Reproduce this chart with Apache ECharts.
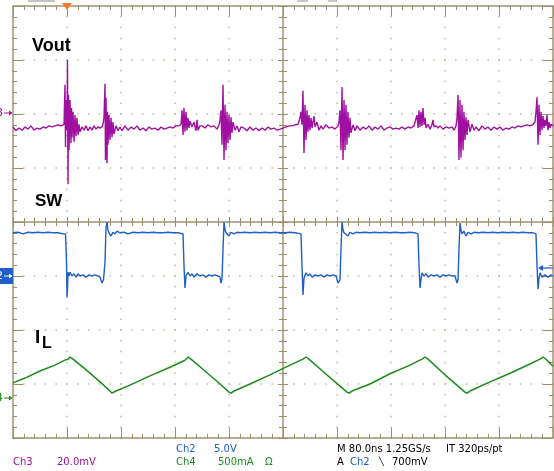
<!DOCTYPE html>
<html><head><meta charset="utf-8">
<script src="https://cdn.jsdelivr.net/npm/echarts@6/dist/echarts.min.js"></script>
<style>html,body{margin:0;padding:0;background:#fff;}#c{width:554px;height:471px;}</style>
</head><body><div id="c"></div>
<script>
// time axis: ns across 10 divisions (80 ns/div); vertical axis: screen divisions (-4..4)
const timeRange = [0, 800];
const timePerDiv = 80;
const divRange = [-4, 4];

// Ch3 Vout (AC ripple) : [ns, div]
const voutTrace = [
[0,1.76],[4.4,1.69],[8.9,1.74],[13.3,1.70],[17.8,1.76],[22.2,1.72],[26.7,1.78],[31.1,1.70],[35.6,1.74],[40,1.72],[44.4,1.76],[48.9,1.74],[53.3,1.78],[57.8,1.76],[62.2,1.78],[66.7,1.80],[71.1,1.78],[72.6,1.80],
[75.6,1.81],[77.0,2.54],[77.8,1.39],[78.5,2.26],[80.0,1.70],[80.7,3.00],[81.5,0.70],[82.2,2.35],[83.0,1.33],[84.4,2.26],[85.9,1.46],[86.7,2.11],[87.4,1.56],[88.9,2.04],[90.4,1.48],[91.9,1.98],[93.3,1.59],[94.8,1.93],[96.3,1.61],[97.8,1.81],[99.3,1.67],[102.2,1.76],[105.2,1.70],[108.1,1.78],[111.1,1.69],[114.1,1.76],[117.0,1.70],[120.0,1.78],[123.0,1.72],[125.9,1.76],[128.9,1.74],[131.9,1.76],[133.3,1.81],[134.8,1.93],
[136.3,2.56],[137.0,1.15],[137.8,2.30],[139.3,1.09],[140.0,2.04],[140.7,1.43],[142.2,1.98],[143.7,1.52],[145.2,1.93],[146.7,1.57],[148.1,1.85],[149.6,1.63],[152.6,1.78],[155.6,1.69],[158.5,1.76],[161.5,1.69],[165.9,1.78],[170.4,1.70],[174.8,1.76],[179.3,1.72],[183.7,1.78],[188.1,1.70],[192.6,1.74],[197.0,1.69],[201.5,1.76],[205.9,1.72],[210.4,1.74],[214.8,1.70],[219.3,1.76],[223.7,1.72],[228.1,1.74],[232.6,1.76],[237.0,1.74],[241.5,1.78],[245.9,1.78],[248.9,1.81],
[250.4,2.07],[251.9,1.61],[253.3,2.11],[254.8,1.67],[256.3,2.04],[257.8,1.70],[259.3,1.93],[260.7,1.74],[262.2,1.87],[265.2,1.76],[268.1,1.85],[271.1,1.69],[272.6,1.89],[274.1,1.70],[277.0,1.78],[280.0,1.78],[284.4,1.74],[288.9,1.80],[293.3,1.76],[297.8,1.78],[302.2,1.72],[305.2,1.80],[306.7,1.89],
[308.1,2.07],[309.6,1.43],[311.1,2.54],[312.6,1.15],[314.1,2.17],[315.6,1.33],[317.0,2.04],[318.5,1.46],[320.0,1.98],[321.5,1.52],[323.0,1.94],[324.4,1.65],[325.9,1.85],[328.9,1.70],[331.9,1.78],[334.8,1.67],[337.8,1.76],[342.2,1.74],[346.7,1.69],[351.1,1.76],[355.6,1.70],[360.0,1.74],[364.4,1.69],[368.9,1.74],[373.3,1.70],[377.8,1.76],[382.2,1.72],[386.7,1.74],[391.1,1.70],[395.6,1.72],[400.0,1.74],[404.4,1.76],[408.9,1.78],[413.3,1.78],[417.8,1.80],[422.2,1.81],[425.2,1.93],
[426.7,2.04],[428.1,1.80],[429.6,2.43],[431.1,1.28],[432.6,2.17],[434.1,1.52],[435.6,2.07],[437.0,1.67],[438.5,1.98],[440.0,1.70],[441.5,1.93],[443.0,1.74],[445.9,1.96],[447.4,1.76],[450.4,1.85],[453.3,1.70],[456.3,1.78],[459.3,1.72],[463.7,1.80],[468.1,1.74],[472.6,1.76],[477.0,1.72],[481.5,1.78],[483.0,1.85],
[484.4,2.07],[485.9,1.33],[487.4,2.50],[488.9,1.15],[490.4,2.26],[491.9,1.33],[493.3,2.17],[494.8,1.43],[496.3,2.04],[497.8,1.56],[499.3,1.93],[500.7,1.65],[503.7,1.80],[506.7,1.69],[509.6,1.78],[514.1,1.70],[518.5,1.76],[523.0,1.72],[527.4,1.78],[531.9,1.70],[536.3,1.76],[540.7,1.72],[545.2,1.78],[549.6,1.70],[554.1,1.74],[558.5,1.76],[563.0,1.72],[567.4,1.74],[571.9,1.72],[576.3,1.76],[580.7,1.72],[585.2,1.76],[589.6,1.74],[594.1,1.78],[597.0,1.81],
[598.5,1.98],[600.0,1.74],[601.5,2.07],[603.0,1.76],[604.4,2.04],[605.9,1.78],[607.4,2.11],[608.9,1.80],[610.4,1.93],[611.9,1.74],[614.8,1.81],[617.8,1.72],[620.7,1.80],[622.2,1.89],[623.7,1.76],[626.7,1.78],[629.6,1.74],[632.6,1.78],[637.0,1.72],[641.5,1.76],[645.9,1.74],[650.4,1.76],[653.3,1.70],[656.3,1.78],
[657.8,1.93],[659.3,2.35],[660.7,1.15],[662.2,2.26],[663.7,1.19],[665.2,2.17],[666.7,1.33],[668.1,2.04],[669.6,1.52],[671.1,1.94],[672.6,1.61],[674.1,1.89],[677.0,1.67],[680.0,1.81],[683.0,1.70],[685.9,1.76],[690.4,1.69],[694.8,1.78],[699.3,1.72],[703.7,1.76],[708.1,1.70],[712.6,1.76],[717.0,1.72],[721.5,1.76],[725.9,1.70],[730.4,1.74],[734.8,1.72],[739.3,1.76],[743.7,1.74],[748.1,1.78],[752.6,1.76],[757.0,1.78],[761.5,1.80],[765.9,1.78],[770.4,1.81],[773.3,1.85],
[774.8,2.04],[776.3,2.31],[777.8,1.43],[779.3,2.17],[780.7,1.61],[782.2,2.04],[783.7,1.70],[785.2,1.96],[786.7,1.74],[788.1,1.89],[789.6,1.78],[791.1,1.98],[792.6,1.70],[794.1,1.85],[795.6,1.74],[797.0,1.81],[800.0,1.78]
];

// Ch2 SW node : [ns, div]
const swTrace = [
[0,-0.20],[7.4,-0.19],[14.8,-0.22],[22.2,-0.19],[29.6,-0.20],[37.0,-0.19],[44.4,-0.20],[51.9,-0.19],[59.3,-0.20],[66.7,-0.20],[74.1,-0.22],[77.8,-0.22],
[79.3,-0.74],[80.0,-1.39],[80.7,-1.26],[81.5,-0.93],[83.0,-1.00],[84.4,-0.93],[87.4,-1.00],[90.4,-0.96],[93.3,-1.02],[96.3,-0.96],[99.3,-1.00],[103.7,-0.98],[108.1,-1.02],[112.6,-0.98],[117.0,-1.00],[121.5,-0.98],[125.9,-1.00],[128.9,-1.02],[131.9,-1.13],[134.1,-1.07],
[136.3,-0.74],[137.8,-0.11],[139.3,0.00],[140.7,-0.15],[142.2,-0.20],[143.7,-0.17],[145.2,-0.26],[148.1,-0.19],[151.1,-0.22],[154.1,-0.17],[158.5,-0.20],[164.4,-0.19],[170.4,-0.22],[177.8,-0.19],[185.2,-0.20],[192.6,-0.19],[200.0,-0.20],[207.4,-0.19],[214.8,-0.20],[222.2,-0.20],[229.6,-0.19],[237.0,-0.20],[244.4,-0.20],[251.9,-0.22],
[253.3,-0.80],[254.8,-1.22],[256.3,-1.00],[259.3,-0.93],[262.2,-1.00],[265.2,-0.96],[268.1,-1.02],[272.6,-0.96],[277.0,-1.00],[281.5,-0.98],[285.9,-1.02],[290.4,-0.98],[294.8,-1.00],[299.3,-0.98],[303.7,-1.00],[306.7,-1.02],[308.1,-1.13],[309.6,-1.06],
[311.1,-0.52],[312.6,0.00],[314.1,-0.15],[315.6,-0.20],[317.0,-0.17],[320.0,-0.26],[323.0,-0.19],[327.4,-0.22],[331.9,-0.19],[336.3,-0.20],[343.7,-0.19],[351.1,-0.20],[358.5,-0.19],[365.9,-0.20],[373.3,-0.19],[380.7,-0.20],[388.1,-0.19],[395.6,-0.20],[403.0,-0.20],[410.4,-0.19],[417.8,-0.20],[426.7,-0.22],
[428.1,-0.80],[429.6,-1.35],[431.1,-1.04],[434.1,-0.94],[437.0,-1.00],[440.0,-0.96],[443.0,-1.02],[447.4,-0.98],[451.9,-1.00],[456.3,-0.98],[460.7,-1.02],[465.2,-0.98],[469.6,-1.00],[474.1,-0.98],[478.5,-1.00],[480.0,-1.02],[481.5,-1.13],[484.4,-1.07],
[485.9,-0.52],[487.4,0.00],[488.9,-0.15],[490.4,-0.20],[493.3,-0.17],[496.3,-0.26],[499.3,-0.19],[503.7,-0.22],[508.1,-0.19],[514.1,-0.20],[521.5,-0.19],[528.9,-0.20],[536.3,-0.19],[543.7,-0.20],[551.1,-0.19],[558.5,-0.20],[565.9,-0.19],[573.3,-0.20],[580.7,-0.20],[588.1,-0.19],[595.6,-0.20],[600.0,-0.22],
[601.5,-0.80],[603.0,-1.22],[604.4,-1.07],[605.9,-0.94],[608.9,-1.00],[611.9,-0.96],[614.8,-1.02],[619.3,-0.98],[623.7,-1.00],[628.1,-0.98],[632.6,-1.02],[637.0,-0.98],[641.5,-1.00],[645.9,-0.98],[650.4,-1.00],[654.8,-1.00],[657.8,-1.13],[659.3,-1.07],
[660.7,-0.52],[662.2,-0.02],[663.7,-0.15],[665.2,-0.22],[668.1,-0.17],[671.1,-0.26],[674.1,-0.19],[678.5,-0.22],[683.0,-0.19],[688.9,-0.20],[696.3,-0.19],[703.7,-0.20],[711.1,-0.19],[718.5,-0.20],[725.9,-0.19],[733.3,-0.20],[740.7,-0.19],[748.1,-0.20],[755.6,-0.19],[763.0,-0.20],[770.4,-0.20],[774.8,-0.22],
[776.3,-0.80],[777.8,-1.24],[779.3,-1.04],[780.7,-0.94],[783.7,-1.02],[788.1,-0.98],[792.6,-1.02],[797.0,-0.98],[800.0,-1.00]
];

// Ch4 inductor current : [ns, div]
const ilTrace = [
[0,-2.98],[17.8,-2.89],[40.0,-2.76],[62.2,-2.65],[78.5,-2.55],[81.5,-2.54],[84.4,-2.50],[88.9,-2.54],
[106.7,-2.72],[128.9,-2.96],[143.7,-3.13],[146.7,-3.17],[152.6,-3.13],
[173.3,-3.02],[202.9,-2.85],[232.6,-2.69],[254.8,-2.56],[259.3,-2.50],[263.7,-2.54],
[284.4,-2.76],[306.7,-3.00],[320.0,-3.15],[323.0,-3.17],[327.4,-3.13],
[351.1,-3.00],[380.7,-2.83],[410.4,-2.65],[429.6,-2.54],[434.1,-2.50],[438.5,-2.54],
[462.2,-2.80],[484.4,-3.04],[494.8,-3.15],[497.8,-3.17],[502.2,-3.13],
[528.9,-3.00],[558.5,-2.81],[588.1,-2.65],[605.9,-2.54],[610.4,-2.50],[614.8,-2.54],
[640.0,-2.83],[659.3,-3.04],[669.6,-3.15],[672.6,-3.17],[677.0,-3.13],
[706.7,-2.96],[736.3,-2.80],[765.9,-2.63],[780.7,-2.54],[785.2,-2.50],[789.6,-2.54],[800.0,-2.67]
];

const traceNames = ['Vout', 'SW', 'IL'];
const statusRow1 = ['Ch2', '5.0V', 'M 80.0ns 1.25GS/s', 'IT 320ps/pt'];
const statusRow2 = ['Ch3', '20.0mV', 'Ch4', '500mA', 'Ω', 'A', 'Ch2', '\u2572', '700mV'];

const PURPLE = '#a010a0', BLUE = '#1f5fc8', GREEN = '#1c8c1c';
const FRAME = '#a09473', TICK = '#9a8e6c', DOT = '#c2b99a';

function tickSet(inside, majorLen, minorLen) {
  return {
    axisTick: { show: true, inside: inside, length: majorLen, lineStyle: { color: TICK, width: 1 } },
    minorTick: { show: true, splitNumber: 5, length: minorLen, lineStyle: { color: TICK, width: 1 } }
  };
}
function xAx(extra) {
  return Object.assign({
    type: 'value', min: timeRange[0], max: timeRange[1], interval: timePerDiv,
    axisLabel: { show: false },
    axisLine: { show: true, onZero: false, lineStyle: { color: FRAME, width: 1.5 } },
    splitLine: { show: false }
  }, tickSet(true, 10, 4), extra);
}
function yAx(extra) {
  return Object.assign({
    type: 'value', min: divRange[0], max: divRange[1], interval: 1,
    axisLabel: { show: false },
    axisLine: { show: true, onZero: false, lineStyle: { color: FRAME, width: 1.5 } },
    splitLine: { show: false }
  }, tickSet(true, 10, 4), extra);
}
const dotted = { show: true, lineStyle: { color: DOT, width: 1.5, type: [1.5, 9.3], dashOffset: 0.75 } };
const noLine = { show: false, onZero: false };

const FONT = '10px "DejaVu Sans"';
function txt(text, x, y, fill, font) {
  return { type: 'text', z: 100, silent: true,
    style: { text: text, x: x, y: y, fill: fill, font: font || FONT, align: 'left', verticalAlign: 'middle' } };
}

const chart = echarts.init(document.getElementById('c'), null, { renderer: 'canvas' });
chart.setOption({
  animation: false,
  backgroundColor: '#ffffff',
  grid: { left: 13, top: 6, width: 540, height: 432, containLabel: false },
  xAxis: [
    xAx({ position: 'bottom', splitLine: dotted }),
    xAx({ position: 'top' }),
    xAx(Object.assign({ position: 'bottom', offset: -216 }, tickSet(false, 5, 4))),
    xAx(Object.assign({ position: 'bottom', offset: -216, axisLine: noLine }, tickSet(true, 5, 4)))
  ],
  yAxis: [
    yAx({ position: 'left', splitLine: dotted }),
    yAx({ position: 'right' }),
    yAx(Object.assign({ position: 'left', offset: -270 }, tickSet(false, 5, 4))),
    yAx(Object.assign({ position: 'left', offset: -270, axisLine: noLine }, tickSet(true, 5, 4)))
  ],
  series: [
    { name: traceNames[0], type: 'line', data: voutTrace, showSymbol: false, symbol: 'none', z: 5,
      lineStyle: { color: PURPLE, width: 1.4 } },
    { name: traceNames[1], type: 'line', data: swTrace, showSymbol: false, symbol: 'none', z: 5,
      lineStyle: { color: BLUE, width: 1.4 } },
    { name: traceNames[2], type: 'line', data: ilTrace, showSymbol: false, symbol: 'none', z: 5,
      lineStyle: { color: GREEN, width: 1.5 } }
  ],
  graphic: { elements: [
    { type: 'rect', z: 100, silent: true, shape: { x: 28, y: 0, width: 27, height: 2 }, style: { fill: '#c4c4c4' } },
    { type: 'rect', z: 100, silent: true, shape: { x: 297, y: 0, width: 11, height: 2 }, style: { fill: '#c8c8c8' } },
    { type: 'rect', z: 100, silent: true, shape: { x: 328, y: 0, width: 9, height: 2 }, style: { fill: '#c8c8c8' } },
    { type: 'polygon', z: 100, silent: true, shape: { points: [[62, 3], [72, 3], [67, 10]] }, style: { fill: '#f47a2a' } },
    txt('Vout', 32, 46, '#000', 'bold 18px "Liberation Sans"'),
    txt('SW', 35, 201, '#000', 'bold 17px "Liberation Sans"'),
    txt('I', 35, 338, '#000', 'bold 19px "Liberation Sans"'),
    txt('L', 42, 344, '#000', 'bold 16px "Liberation Sans"'),
    txt('3', -4, 113, PURPLE, '11px "DejaVu Sans"'),
    { type: 'line', z: 100, silent: true, shape: { x1: 4, y1: 113, x2: 10, y2: 113 }, style: { stroke: PURPLE, lineWidth: 1 } },
    { type: 'polygon', z: 100, silent: true, shape: { points: [[9, 110.5], [12.5, 113], [9, 115.5]] }, style: { fill: PURPLE } },
    { type: 'rect', z: 100, silent: true, shape: { x: 0, y: 268, width: 13, height: 16 }, style: { fill: BLUE } },
    txt('2', -4, 276, '#fff', '11px "DejaVu Sans"'),
    { type: 'line', z: 101, silent: true, shape: { x1: 4, y1: 276, x2: 10, y2: 276 }, style: { stroke: '#fff', lineWidth: 1 } },
    { type: 'polygon', z: 101, silent: true, shape: { points: [[9, 273.5], [12.5, 276], [9, 278.5]] }, style: { fill: '#fff' } },
    txt('4', -4, 398, GREEN, '11px "DejaVu Sans"'),
    { type: 'line', z: 100, silent: true, shape: { x1: 4, y1: 398, x2: 10, y2: 398 }, style: { stroke: GREEN, lineWidth: 1 } },
    { type: 'polygon', z: 100, silent: true, shape: { points: [[9, 395.5], [12.5, 398], [9, 400.5]] }, style: { fill: GREEN } },
    { type: 'line', z: 100, silent: true, shape: { x1: 541, y1: 268, x2: 553, y2: 268 }, style: { stroke: BLUE, lineWidth: 1.2 } },
    { type: 'polygon', z: 100, silent: true, shape: { points: [[538, 268], [543, 265], [543, 271]] }, style: { fill: BLUE } },
    txt(statusRow1[0], 176, 449, BLUE),
    txt(statusRow1[1], 214, 449, BLUE),
    txt(statusRow1[2], 337, 449, '#000'),
    txt(statusRow1[3], 446, 449, '#000'),
    txt(statusRow2[0], 13, 462, PURPLE),
    txt(statusRow2[1], 57, 462, PURPLE),
    txt(statusRow2[2], 176, 462, GREEN),
    txt(statusRow2[3], 218, 462, GREEN),
    txt(statusRow2[4], 265, 462, GREEN),
    txt(statusRow2[5], 337, 462, '#000'),
    txt(statusRow2[6], 350, 462, BLUE),
    txt(statusRow2[7], 379, 462, '#000', '8px "DejaVu Sans"'),
    txt(statusRow2[8], 392, 462, '#000')
  ] }
});
</script>
</body></html>
